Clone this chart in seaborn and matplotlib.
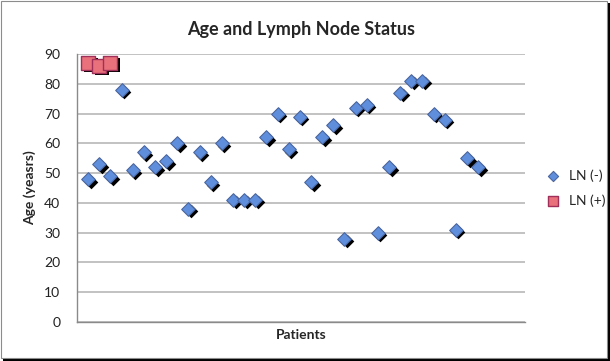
import matplotlib
matplotlib.use("Agg")
import matplotlib.pyplot as plt
import matplotlib.transforms as mtransforms
from matplotlib.patches import Rectangle
import seaborn as sns
import pandas as pd

# Data
neg_patient = list(range(1, 37))
neg_age = [48, 53, 49, 78, 51, 57, 52, 54, 60, 38, 57, 47, 60, 41, 41, 41, 62, 70,
           58, 69, 47, 62, 66, 28, 72, 73, 30, 52, 77, 81, 81, 70, 68, 31, 55, 52]
pos_patient = [1, 2, 3]
pos_age = [87, 86, 87]
series_names = ["LN (-)", "LN (+)"]

neg = pd.DataFrame({"patient": neg_patient, "age": neg_age})
pos = pd.DataFrame({"patient": pos_patient, "age": pos_age})

sns.set_theme(style="white")
plt.rcParams['font.family'] = ['Lato', 'DejaVu Sans']

fig = plt.figure(figsize=(6.1, 3.61), dpi=100)

# chart border with shadow on right/bottom
fig.add_artist(Rectangle((3 / 610, 0), 1 - 3 / 610, 1 - 3 / 361, transform=fig.transFigure,
                         facecolor="black", edgecolor="none", zorder=-2))
fig.add_artist(Rectangle((1 / 610, 3 / 361), 1 - 4 / 610, 1 - 4 / 361, transform=fig.transFigure,
                         facecolor="white", edgecolor="#8c8c8c", lw=0.8, zorder=-1))

ax = fig.add_axes([77 / 610, 1 - 322 / 361, 448 / 610, 268 / 361])
ax.set_facecolor("none")

shadow = ax.transData + mtransforms.ScaledTranslation(2.5 / 100, -2.5 / 100, fig.dpi_scale_trans)

# shadows
sns.scatterplot(data=neg, x="patient", y="age", ax=ax, marker="D", s=48, color="black",
                edgecolor="black", linewidth=0, transform=shadow, zorder=3, legend=False)
sns.scatterplot(data=pos, x="patient", y="age", ax=ax, marker="s", s=95, color="black",
                edgecolor="black", linewidth=0, transform=shadow, zorder=3, legend=False)
# markers
sns.scatterplot(data=neg, x="patient", y="age", ax=ax, marker="D", s=48, color="#5f8fdc",
                edgecolor="#4a66a0", linewidth=0.8, zorder=4, label=series_names[0])
sns.scatterplot(data=pos, x="patient", y="age", ax=ax, marker="s", s=95, color="#e9717b",
                edgecolor="#a0305a", linewidth=1.0, zorder=4, label=series_names[1])

ax.set_xlim(0, 40.2)
ax.set_ylim(0, 90)
ax.set_yticks(range(0, 91, 10))
ax.set_xticks([])
ax.yaxis.grid(True, color="#bdbdbd", lw=1.3)
ax.set_axisbelow(True)
for side in ["left", "bottom"]:
    ax.spines[side].set_color("#8a8a8a")
    ax.spines[side].set_linewidth(1.0)
for side in ["top", "right"]:
    ax.spines[side].set_visible(False)
ax.tick_params(axis="y", labelsize=10, colors="#222222", length=0, pad=12)

ax.set_title("Age and Lymph Node Status", fontsize=13, fontweight="bold", pad=14)
ax.set_xlabel("Patients", fontsize=10, fontweight="bold", labelpad=5)
ax.set_ylabel("Age (yeasrs)", fontsize=10, fontweight="bold", labelpad=6)

leg = ax.legend(loc="center left", bbox_to_anchor=(1.02, 0.5), frameon=False,
                fontsize=10, handletextpad=0.1, labelspacing=0.9, borderaxespad=0,
                markerscale=0.75)

fig.savefig("out.png", dpi=100)
